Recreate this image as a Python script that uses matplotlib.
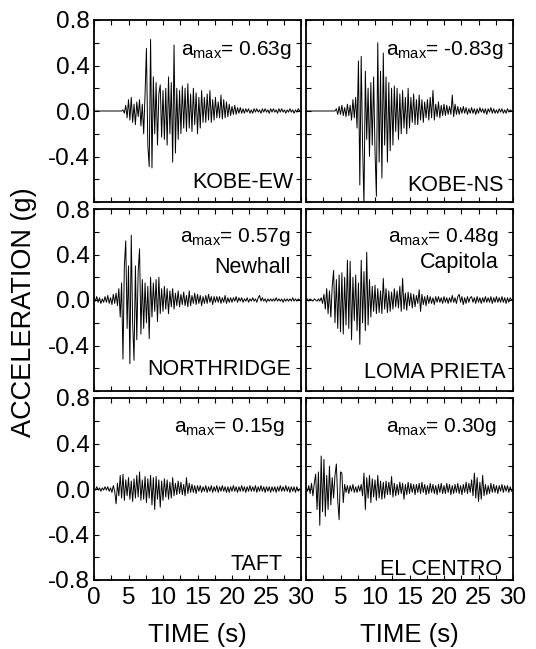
import numpy as np
import matplotlib
matplotlib.use("Agg")
import matplotlib.pyplot as plt

plt.rcParams['font.family'] = ['Liberation Sans', 'DejaVu Sans']
plt.rcParams['mathtext.fontset'] = 'custom'
plt.rcParams['mathtext.rm'] = 'Liberation Sans'
plt.rcParams['mathtext.it'] = 'Liberation Sans'

# sampling interval of the digitised records (s)
DT = 0.2

# accelerations in units of 0.01 g, 0.2 s steps, 0-30 s
kobe_ew = [
    0, 0, 0, 0, 0, 0, 0, 0, 0, 0,
    0, 0, 0, 0, 0, 0, 0, 0, 0, 0,
    0, 1, -2, 5, -6, 10, -8, 12, -10, 6,
    -12, 8, -5, 10, -13, 6, -20, 15, 55, -30,
    -49, 63, -50, 30, -20, 25, -30, 15, 23, -23,
    18, -25, 20, -30, 30, -20, 25, -45, 58, -37,
    20, -25, 18, -20, 22, -15, 20, -18, 24, -15,
    15, -18, 20, -12, 16, -20, 12, -15, 18, -10,
    12, -10, 15, -8, 18, -10, 10, -8, 12, -6,
    8, -6, 14, -7, 10, -6, 8, -5, 6, -4,
    4, -3, 5, -3, 3, -2, 3, -2, 2, -2,
    2, -1, 2, -2, 1, -2, 2, -1, 2, -1,
    1, -2, 2, -1, 2, -1, 1, -2, 2, -1,
    2, -1, 1, -2, 2, -1, 2, -1, 1, -2,
    1, -1, 2, -1, 1, -2, 1, -1, 2, 0,
]
kobe_ns = [
    0, 0, 0, 0, 0, 0, 0, 0, 0, 0,
    0, 0, 0, 0, 0, 0, 0, 0, 0, 0,
    0, 0, 2, -3, 4, -3, 5, -4, 3, -5,
    6, -4, 5, -8, 10, -6, 12, -15, 44, -65,
    48, -30, -83, 35, -25, 20, -40, 25, -30, 30,
    -35, -75, 60, -45, 35, -59, 51, -30, 30, -45,
    25, -35, 20, -30, 22, -18, 20, -25, 15, -20,
    18, -15, 12, -20, 20, -15, 12, -10, 15, -12,
    10, -12, 14, -8, 10, -10, 8, -6, 10, -8,
    12, -6, 18, -8, 6, -5, 8, -6, 5, -4,
    6, -4, 5, -3, 4, -3, 14, -5, 6, -3,
    4, -3, 3, -2, 4, -2, 3, -3, 2, -2,
    3, -2, 2, -3, 2, -2, 3, -1, 2, -2,
    2, -3, 2, -1, 3, -2, 2, -2, 1, -2,
    2, -1, 2, -2, 1, -2, 2, -1, 1, 0,
]
northridge = [
    2, -1, 3, -2, 2, -3, 1, -2, 3, -2,
    4, -3, 2, -4, 5, -3, 6, -5, 10, -15,
    15, -52, 30, 52, -25, 30, -56, 57, -20, -53,
    30, -35, 25, 45, -30, 18, -25, 15, -20, 12,
    -34, 20, -15, 15, -10, 18, -19, 20, -12, 10,
    -10, 12, -8, 10, -12, 8, -6, 10, -8, 6,
    -5, 8, -6, 5, -4, 7, -5, 4, -6, 8,
    -5, 4, -3, 6, -4, 5, -3, 4, -5, 3,
    -3, 4, -3, 5, -2, 3, -4, 3, -2, 3,
    -2, 3, -3, 2, -2, 4, -3, 2, -2, 2,
    -2, 2, -1, 3, -2, 2, -1, 2, -2, 1,
    -1, 2, -2, 1, -1, 2, -1, 1, -2, 2,
    4, -1, 2, -1, 1, -2, 1, -1, 1, -1,
    1, -1, 2, -1, 1, -1, 1, -2, 1, -1,
    1, -1, 1, -1, 2, -1, 1, -1, 1, 0,
]
loma_prieta = [
    0, 1, -1, 1, 0, -1, 1, 0, -1, 1,
    -1, 2, -3, 5, -8, 10, -12, 8, -15, 12,
    26, -20, 18, -25, 22, -28, 24, -30, 20, -22,
    35, -25, 34, -35, 20, -18, 22, -27, 15, -39,
    35, -20, 25, -27, 42, -22, 18, -15, 12, -10,
    13, -12, 10, -11, 8, -12, 19, -8, 10, -11,
    8, -10, 7, -8, 10, -6, 8, -7, 12, -10,
    19, -8, 6, -9, 7, -5, 6, -7, 5, -6,
    4, -3, 9, -10, 5, -4, 3, -5, 4, -3,
    3, -3, 2, -4, 3, -2, 3, -2, 2, -3,
    3, -2, 2, -3, 2, -2, 4, -2, 2, -3,
    3, 5, -2, 3, -4, 2, -3, 3, -2, 2,
    3, -2, 2, -3, 3, -2, 2, -3, 2, -2,
    3, -2, 2, -2, 3, -3, 2, -2, 3, -2,
    2, -2, 3, -2, 2, -3, 2, -2, 2, 0,
]
taft = [
    1, -1, 2, -1, 1, -2, 1, -1, 2, -1,
    2, -2, 1, -3, 3, -2, -13, 5, -6, 12,
    -8, 13, -10, 8, -6, 10, -9, 7, -11, 9,
    -8, 12, -7, 15, -10, 8, -9, 11, -12, 9,
    -8, 12, -14, 10, -18, 11, -9, 8, -16, 7,
    -10, 9, -7, 8, -9, 6, -8, 10, -6, 5,
    -5, 7, -4, 6, -5, 4, -6, 10, -4, 5,
    -3, 4, -3, 3, -4, 3, -2, 3, -3, 2,
    -2, 3, -3, 2, -2, 3, -3, 2, -2, 3,
    -3, 2, -2, 3, -2, 2, -3, 2, -3, 2,
    -2, 3, -2, 2, -3, 2, -2, 3, -2, 2,
    -3, 2, -2, 3, -2, 2, -2, 3, -3, 2,
    -2, 3, -2, 2, -3, 2, -2, 2, -3, 2,
    -2, 2, -3, 2, -2, 3, -2, 2, -2, 3,
    -2, 2, -3, 2, -2, 2, -3, 2, -2, 0,
]
el_centro = [
    1, -2, 3, -4, 5, -6, 5, 13, -18, 15,
    -32, 29, -20, 26, -24, 12, -18, 20, -14, 10,
    -8, 12, 22, -10, -27, 15, 14, -12, 4, -3,
    3, -4, 3, -2, 4, -3, 2, -3, 3, -2,
    4, -6, 14, -18, 10, -8, 12, -12, 9, -7,
    8, -10, 12, -8, 7, -9, 6, -8, 7, -5,
    6, -5, 11, -7, 5, -6, 4, -5, 6, -4,
    5, -9, 4, -5, 6, -4, 5, -3, 4, -5,
    4, -3, 5, -4, 6, -3, 4, -5, 3, -4,
    5, -3, 4, -4, 3, -5, 4, -3, 5, -4,
    3, -4, 5, -3, 4, -5, 3, -4, 4, -3,
    5, -4, 3, -5, 4, -3, 6, -4, 5, -3,
    8, -6, 14, -8, 10, -11, 6, -9, 12, -6,
    4, -5, 3, -4, 5, -3, 4, -3, 3, -4,
    3, -2, 4, -3, 3, -2, 3, -3, 2, -2,
]

series = [kobe_ew, kobe_ns, northridge, loma_prieta, taft, el_centro]
names = ['KOBE-EW', 'KOBE-NS', 'NORTHRIDGE', 'LOMA PRIETA', 'TAFT', 'EL CENTRO']
amax = ['0.63g', '-0.83g', '0.57g', '0.48g', '0.15g', '0.30g']
sites = ['', '', 'Newhall', 'Capitola', '', '']

x_ticks = [0, 5, 10, 15, 20, 25, 30]
y_ticks = [-0.8, -0.4, 0.0, 0.4, 0.8]
y_tick_labels = ['-0.8', '-0.4', '0.0', '0.4', '0.8']

# layout (pixels in a 536 x 649 figure)
FW, FH = 536, 649
col_left = [94, 306]
row_top = [20, 209, 398]
AW, AH = 207, 182

# text placement per panel (axes fraction)
amax_pos = [(0.957, 0.81), (0.957, 0.81), (0.95, 0.82), (0.932, 0.82), (0.92, 0.815), (0.92, 0.815)]
site_pos = [None, None, (0.95, 0.648), (0.932, 0.676), None, None]
name_pos = [(0.961, 0.077), (0.957, 0.062), (0.95, 0.088), (0.966, 0.07), (0.91, 0.055), (0.945, 0.03)]

fig = plt.figure(figsize=(FW / 100, FH / 100), dpi=100)

TXT = 15.0
NAME_TXT = 15.5
for i, vals in enumerate(series):
    r, c = divmod(i, 2)
    ax = fig.add_axes([col_left[c] / FW, 1 - (row_top[r] + AH) / FH, AW / FW, AH / FH])
    t = np.arange(len(vals)) * DT
    ax.plot(t, np.asarray(vals) / 100.0, color='black', lw=0.7)
    ax.set_xlim(0, 30)
    ax.set_ylim(-0.8, 0.8)
    ax.set_xticks(x_ticks)
    ax.set_xticks(np.arange(0, 30.01, 2.5), minor=True)
    ax.set_yticks(y_ticks)
    ax.set_yticks(np.arange(-0.8, 0.81, 0.2), minor=True)
    ax.tick_params(which='both', direction='in', top=True, right=True,
                   length=3.5, width=0.8, labelsize=17.5)
    ax.tick_params(axis='y', pad=2.9)
    ax.tick_params(axis='x', pad=5.0)
    for s in ax.spines.values():
        s.set_linewidth(1.3)
    # y labels
    if c == 0:
        labs = list(y_tick_labels)
        if r < 2:
            labs[0] = ''
        ax.set_yticklabels(labs)
    else:
        ax.set_yticklabels([])
    # x labels
    if r == 2:
        labs = [str(v) for v in x_ticks]
        if c == 1:
            labs[0] = ''
        ax.set_xticklabels(labs)
    else:
        ax.set_xticklabels([])

    ax.text(amax_pos[i][0], amax_pos[i][1], r'$\mathregular{a_{max}}$= ' + amax[i],
            transform=ax.transAxes, ha='right', va='baseline', fontsize=TXT)
    if sites[i]:
        ax.text(site_pos[i][0], site_pos[i][1], sites[i], transform=ax.transAxes,
                ha='right', va='baseline', fontsize=NAME_TXT)
    ax.text(name_pos[i][0], name_pos[i][1], names[i], transform=ax.transAxes,
            ha='right', va='baseline', fontsize=NAME_TXT)

fig.text(24 / FW, 1 - 312 / FH, 'ACCELERATION (g)', rotation=90, ha='center', va='center', fontsize=19.5)
for c in range(2):
    fig.text((col_left[c] + AW / 2) / FW, 1 - 642 / FH, 'TIME (s)', ha='center', va='baseline', fontsize=18.5)

fig.savefig('out.png', dpi=100)
